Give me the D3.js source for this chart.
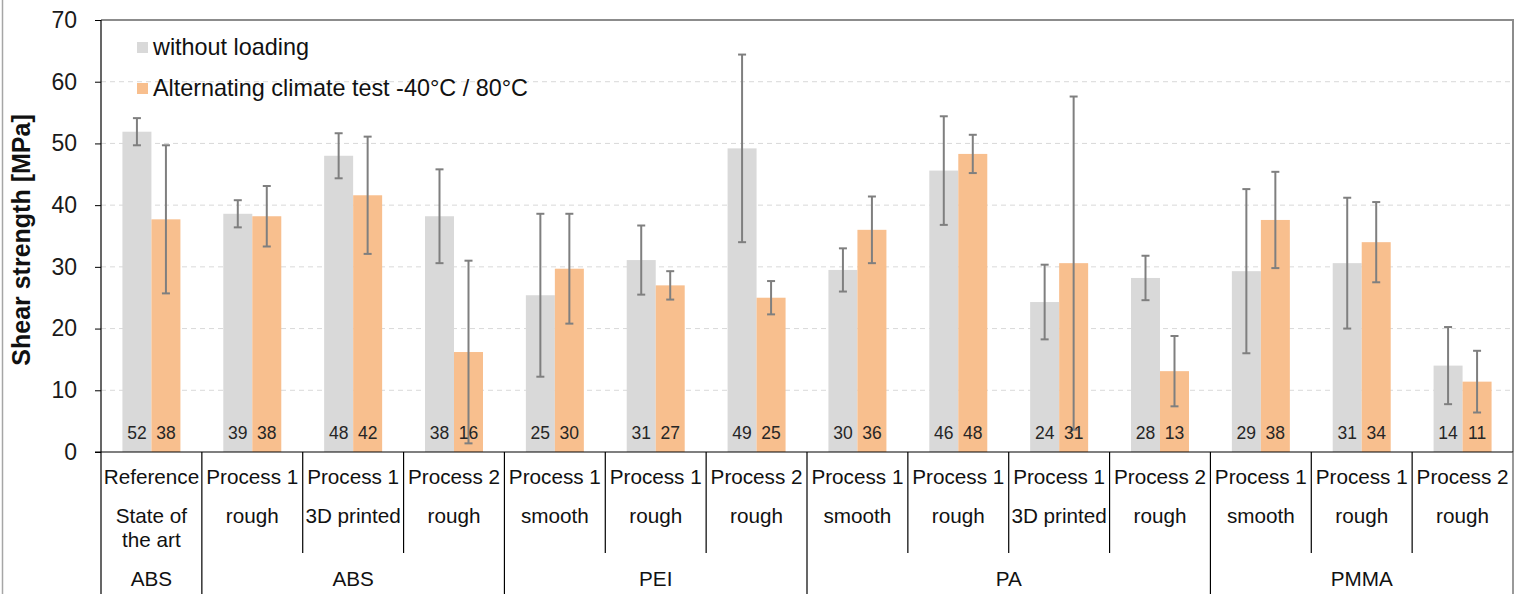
<!DOCTYPE html>
<html><head><meta charset="utf-8">
<script src="https://cdn.jsdelivr.net/npm/d3@7"></script>
<style>body{margin:0;background:#fff;}svg{display:block;font-family:"Liberation Sans",Arial,sans-serif;}</style>
</head><body>
<svg id="c" width="1521" height="594"></svg>
<script>
const processLabels = ["Reference","Process 1","Process 1","Process 2","Process 1","Process 1","Process 2","Process 1","Process 1","Process 1","Process 2","Process 1","Process 1","Process 2"];
const surfaceLabels = ["State of|the art","rough","3D printed","rough","smooth","rough","rough","smooth","rough","3D printed","rough","smooth","rough","rough"];
const materialGroups = ["ABS","ABS","PEI","PA","PMMA"];
const groupSizes = [1,3,3,4,3];
const seriesNames = ["without loading","Alternating climate test -40°C / 80°C"];
const withoutLoading = [51.9,38.6,48.0,38.2,25.4,31.1,49.2,29.5,45.6,24.3,28.2,29.3,30.6,14.0];
const alternating = [37.7,38.2,41.6,16.2,29.7,27.0,25.0,36.0,48.3,30.6,13.1,37.6,34.0,11.4];
const errWithout = [2.2,2.2,3.65,7.6,13.2,5.6,15.2,3.5,8.8,6.05,3.6,13.3,10.6,6.25];
const errAlternating = [12.0,4.9,9.5,14.8,8.9,2.3,2.7,5.4,3.1,27.0,5.7,7.8,6.5,5.0];
const yTicks = [0,10,20,30,40,50,60,70];
const colors = ["#d9d9d9","#f8bf8e"];

const svg = d3.select("#c");
const L = 101, R = 1513, T = 20, B = 452;
const idx = d3.range(processLabels.length);
const x0 = d3.scaleBand().domain(idx).range([L,R]).paddingInner(0.425).paddingOuter(0.2125);
const x1 = d3.scaleBand().domain([0,1]).range([0,x0.bandwidth()]);
const y = d3.scaleLinear().domain([0,70]).range([B,T]);
const step = x0.step();
const bx = i => L + i*step; // category boundary

// frame line at left
svg.append("line").attr("x1",2.5).attr("x2",2.5).attr("y1",0).attr("y2",594).attr("stroke","#a6a6a6").attr("stroke-width",1.5);

// gridlines
svg.append("g").selectAll("line").data(yTicks.filter(d=>d>0 && d<70)).join("line")
  .attr("x1",L).attr("x2",R).attr("y1",d=>y(d)).attr("y2",d=>y(d))
  .attr("stroke","#d9d9d9").attr("stroke-width",1).attr("stroke-dasharray","5,4");

// plot border top/right
svg.append("line").attr("x1",L).attr("x2",R+1).attr("y1",y(70)).attr("y2",y(70)).attr("stroke","#8c8c8c").attr("stroke-width",2);
svg.append("line").attr("x1",R).attr("x2",R).attr("y1",y(70)).attr("y2",B).attr("stroke","#8c8c8c").attr("stroke-width",2);

// bars
const series = [withoutLoading, alternating];
const errs = [errWithout, errAlternating];
series.forEach((vals,s)=>{
  svg.append("g").selectAll("rect").data(vals).join("rect")
    .attr("x",(d,i)=>x0(i)+x1(s)).attr("width",x1.bandwidth())
    .attr("y",d=>y(d)).attr("height",d=>B-y(d)).attr("fill",colors[s]);
});
// error bars
series.forEach((vals,s)=>{
  const g = svg.append("g").attr("stroke","#7f7f7f").attr("stroke-width",2);
  vals.forEach((v,i)=>{
    const cx = x0(i)+x1(s)+x1.bandwidth()/2;
    const e = errs[s][i];
    g.append("line").attr("x1",cx).attr("x2",cx).attr("y1",y(v+e)).attr("y2",y(Math.max(0,v-e)));
    g.append("line").attr("x1",cx-4).attr("x2",cx+4).attr("y1",y(v+e)).attr("y2",y(v+e));
    g.append("line").attr("x1",cx-4).attr("x2",cx+4).attr("y1",y(Math.max(0,v-e))).attr("y2",y(Math.max(0,v-e)));
  });
});
// data labels
series.forEach((vals,s)=>{
  svg.append("g").selectAll("text").data(vals).join("text")
    .attr("x",(d,i)=>x0(i)+x1(s)+x1.bandwidth()/2).attr("y",439)
    .attr("text-anchor","middle").attr("font-size",17.5).attr("fill","#262626")
    .text(d=>Math.round(d));
});

// y axis
const yAxis = d3.axisLeft(y).tickValues(yTicks).tickSize(6).tickPadding(18);
const ga = svg.append("g").attr("transform",`translate(${L},0)`).call(yAxis);
ga.select(".domain").remove();
ga.selectAll(".tick line").attr("stroke","#000");
ga.selectAll(".tick text").attr("font-size",23).attr("fill","#1a1a1a").attr("font-family","Liberation Sans, Arial, sans-serif");
svg.append("line").attr("x1",L).attr("x2",L).attr("y1",T).attr("y2",594).attr("stroke","#000").attr("stroke-width",1.2);
// x axis line
svg.append("line").attr("x1",L-6).attr("x2",R).attr("y1",B).attr("y2",B).attr("stroke","#000").attr("stroke-width",1.2);

// category separators
let cum = 0; const groupStarts = [];
groupSizes.forEach(n=>{groupStarts.push(cum); cum+=n;});
for(let i=1;i<=processLabels.length;i++){
  const full = groupStarts.includes(i) || i===processLabels.length;
  svg.append("line").attr("x1",bx(i)).attr("x2",bx(i)).attr("y1",B).attr("y2",full?594:553)
    .attr("stroke", i===processLabels.length ? "#555" : "#000").attr("stroke-width",1.2);
}
// category labels
idx.forEach(i=>{
  const cx = bx(i)+step/2;
  svg.append("text").attr("x",cx).attr("y",484).attr("text-anchor","middle").attr("font-size",20.7).attr("fill","#111").text(processLabels[i]);
  surfaceLabels[i].split("|").forEach((t,k)=>{
    svg.append("text").attr("x",cx).attr("y",523+k*24).attr("text-anchor","middle").attr("font-size",20.7).attr("fill","#111").text(t);
  });
});
materialGroups.forEach((m,g)=>{
  const a = bx(groupStarts[g]), b = bx(groupStarts[g]+groupSizes[g]);
  svg.append("text").attr("x",(a+b)/2).attr("y",586).attr("text-anchor","middle").attr("font-size",20.7).attr("fill","#111").text(m);
});

// y title
svg.append("text").attr("transform","translate(30,240) rotate(-90)").attr("text-anchor","middle")
  .attr("font-size",25).attr("font-weight","bold").attr("fill","#111").text("Shear strength [MPa]");

// legend
seriesNames.forEach((n,s)=>{
  const yy = 47 + s*41;
  svg.append("rect").attr("x",137).attr("y",yy-5).attr("width",11).attr("height",11).attr("fill",colors[s]);
  svg.append("text").attr("x",153).attr("y",yy+8).attr("font-size",23.4).attr("fill","#111").text(n);
});
</script>
</body></html>
